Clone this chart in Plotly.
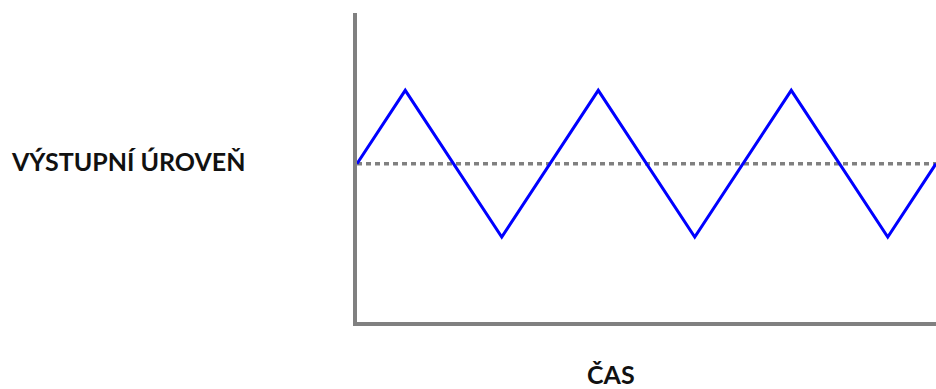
import plotly.graph_objects as go

# Data
time_points = [0, 1, 3, 5, 7, 9, 11, 12]
output_level = [0, 1, -1, 1, -1, 1, -1, 0]
baseline_x = [0, 12]
baseline_y = [0, 0]
y_label = "VÝSTUPNÍ ÚROVEŇ"
x_label = "ČAS"

W, H = 936, 389
L, R, T, B = 357, 0, 13, 67
pw = W - L - R
ph = H - T - B

fig = go.Figure()
fig.add_trace(go.Scatter(x=baseline_x, y=baseline_y, mode="lines",
                         line=dict(color="#808080", width=3.5, dash="5px,4px"),
                         hoverinfo="skip", showlegend=False))
fig.add_trace(go.Scatter(x=time_points, y=output_level, mode="lines",
                         line=dict(color="#0000ff", width=3),
                         showlegend=False))

def px_to_paper_x(px):
    return (px - L) / pw

def px_to_paper_y(py):
    return (H - B - py) / ph

fig.update_layout(
    width=W, height=H,
    margin=dict(l=L, r=R, t=T, b=B, pad=0),
    paper_bgcolor="white", plot_bgcolor="white",
    xaxis=dict(range=[0, 12], showgrid=False, zeroline=False, showticklabels=False,
               ticks="", showline=True, linecolor="#808080", linewidth=4, fixedrange=True),
    yaxis=dict(range=[-2.16, 2.055], showgrid=False, zeroline=False, showticklabels=False,
               ticks="", showline=True, linecolor="#808080", linewidth=4, fixedrange=True),
    font=dict(family="Lato", size=25, color="#111111"),
    annotations=[
        dict(text="<b>" + y_label + "</b>", x=px_to_paper_x(127.5), y=px_to_paper_y(161),
             xref="paper", yref="paper", showarrow=False, xanchor="center", yanchor="middle",
             font=dict(family="Lato", size=25, color="#111111")),
        dict(text="<b>" + x_label + "</b>", x=px_to_paper_x(611), y=px_to_paper_y(374),
             xref="paper", yref="paper", showarrow=False, xanchor="center", yanchor="middle",
             font=dict(family="Lato", size=25, color="#111111")),
    ],
)

fig.write_html("out.html", config={"displayModeBar": False},
               post_script="document.body.style.margin='0';")
